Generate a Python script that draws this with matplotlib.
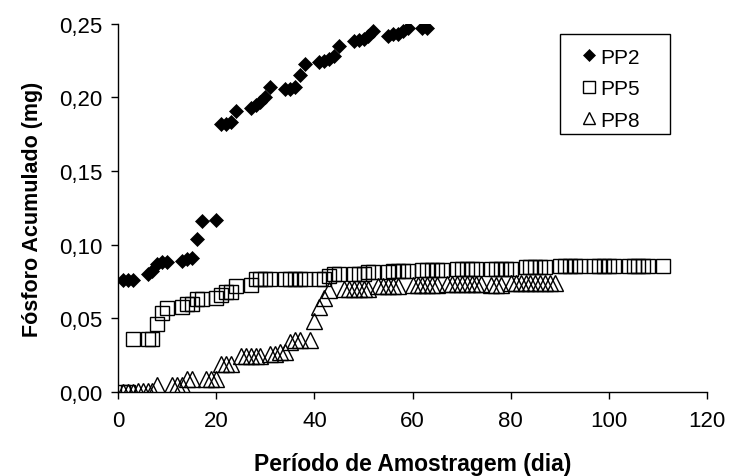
import matplotlib
matplotlib.use("Agg")
import matplotlib.pyplot as plt
from matplotlib.patches import Rectangle
from matplotlib.ticker import FuncFormatter

plt.rcParams['font.family'] = ['Liberation Sans', 'DejaVu Sans']

# PP2 - dias de amostragem e fosforo acumulado (mg)
dias_pp2 = [1, 2, 3, 6, 7, 8, 9, 10, 13, 14, 15, 16, 17, 20, 21, 22, 23, 24,
            27, 28, 29, 30, 31, 34, 35, 36, 37, 38, 41, 42, 43, 44, 45,
            48, 49, 50, 51, 52, 55, 56, 57, 58, 59, 62, 63]
p_pp2 = [0.076, 0.076, 0.076, 0.080, 0.082, 0.087, 0.088, 0.088, 0.089, 0.090,
         0.091, 0.104, 0.116, 0.117, 0.182, 0.182, 0.183, 0.191,
         0.193, 0.195, 0.197, 0.200, 0.207, 0.206, 0.206, 0.207, 0.215, 0.223,
         0.224, 0.225, 0.226, 0.228, 0.235,
         0.238, 0.239, 0.240, 0.242, 0.245, 0.242, 0.243, 0.243, 0.245, 0.247,
         0.247, 0.247]

# PP5
dias_pp5 = [1, 2, 3, 6, 7, 8, 9, 10, 13, 14, 15, 16, 17, 20, 21, 22, 23, 24,
            27, 28, 29, 30, 31, 34, 35, 36, 37, 38, 41, 42, 43, 44, 45,
            48, 49, 50, 51, 52, 55, 56, 57, 58, 59, 62, 63, 64, 65, 66,
            69, 70, 71, 72, 73, 76, 77, 78, 79, 80, 83, 84, 85, 86, 87,
            90, 91, 92, 93, 94, 97, 98, 99, 100, 101, 104, 105, 106, 107, 108,
            111]
p_pp5 = [0.000, 0.000, 0.036, 0.036, 0.036, 0.046, 0.054, 0.057, 0.058, 0.060,
         0.060, 0.063, 0.063, 0.064, 0.066, 0.068, 0.068, 0.072,
         0.073, 0.077, 0.077, 0.077, 0.077, 0.077, 0.077, 0.077, 0.077, 0.077,
         0.077, 0.077, 0.079, 0.080, 0.080,
         0.080, 0.080, 0.080, 0.0815, 0.0815, 0.0815, 0.0824, 0.0824, 0.0824, 0.0824,
         0.083, 0.083, 0.083, 0.083, 0.083,
         0.0835, 0.0835, 0.0835, 0.0835, 0.0835, 0.0835, 0.0835, 0.0835, 0.0835, 0.0835,
         0.0847, 0.0847, 0.0847, 0.0847, 0.0847,
         0.0854, 0.0854, 0.0854, 0.0854, 0.0854, 0.0854, 0.0854, 0.0854, 0.0854, 0.0854,
         0.0854, 0.0854, 0.0854, 0.0854, 0.0854,
         0.0854]

# PP8
dias_pp8 = [1, 2, 3, 4, 5, 6, 7, 8, 11, 12, 13, 14, 15, 18, 19, 20, 21, 22, 23,
            25, 26, 27, 28, 29, 31, 32, 33, 34, 35, 36, 37, 39, 40, 41, 42, 43,
            46, 47, 48, 49, 50, 51, 53, 54, 55, 56, 57, 60, 61, 62, 63, 64, 65,
            67, 68, 69, 70, 71, 72, 73, 74, 76, 77, 78,
            80, 81, 82, 83, 84, 85, 86, 87, 88, 89]
p_pp8 = [0.000, 0.000, 0.000, 0.001, 0.001, 0.001, 0.001, 0.005, 0.005, 0.005,
         0.005, 0.009, 0.009, 0.009, 0.009, 0.009, 0.019, 0.019, 0.019,
         0.0245, 0.0245, 0.0245, 0.0245, 0.0245, 0.026, 0.026, 0.027, 0.027,
         0.034, 0.035, 0.035, 0.035, 0.048, 0.058, 0.064, 0.069,
         0.070, 0.070, 0.070, 0.070, 0.070, 0.070, 0.072, 0.072, 0.072, 0.072, 0.072,
         0.073, 0.073, 0.073, 0.073, 0.073, 0.073,
         0.0733, 0.0733, 0.0733, 0.0733, 0.0733, 0.0733, 0.0733, 0.0733,
         0.073, 0.073, 0.073,
         0.074, 0.074, 0.074, 0.074, 0.074, 0.074, 0.074, 0.074, 0.074, 0.074]

fig = plt.figure(figsize=(7.29, 4.77), dpi=100)
ax = fig.add_axes([0.162, 0.176, 0.808, 0.772])

ax.plot(dias_pp2, p_pp2, linestyle='none', marker='D', ms=7.4,
        mfc='black', mec='black', mew=0.5, label='PP2')
ax.plot(dias_pp5, p_pp5, linestyle='none', marker='s', ms=9.6,
        mfc='none', mec='black', mew=1.0, label='PP5')
ax.plot(dias_pp8, p_pp8, linestyle='none', marker='^', ms=11,
        mfc='none', mec='black', mew=1.0, label='PP8')

ax.set_xlim(0, 120)
ax.set_ylim(0, 0.25)
ax.set_xticks(range(0, 121, 20))
ax.set_yticks([0, 0.05, 0.10, 0.15, 0.20, 0.25])
ax.yaxis.set_major_formatter(FuncFormatter(lambda v, p: f'{v:.2f}'.replace('.', ',')))

for s in ['top', 'right']:
    ax.spines[s].set_visible(False)
for s in ['left', 'bottom']:
    ax.spines[s].set_linewidth(1.0)
ax.tick_params(direction='out', length=5, width=1.0, labelsize=16, colors='black')
ax.tick_params(axis='x', pad=8)
ax.tick_params(axis='y', pad=6)

ax.set_xlabel('Período de Amostragem (dia)', fontsize=16.5, fontweight='bold', labelpad=15)
ax.set_ylabel('Fósforo Acumulado (mg)', fontsize=15.5, fontweight='bold', labelpad=12)

# legend box drawn separately (Excel-like wide frame)
ax.add_patch(Rectangle((0.7504, 0.701), 0.1868, 0.2717, transform=ax.transAxes,
                       fill=False, edgecolor='black', linewidth=1.0, clip_on=False))
leg = ax.legend(loc='upper left', bbox_to_anchor=(0.786, 0.935), fontsize=15,
                frameon=False, handlelength=0.75, handletextpad=0.15, borderpad=0,
                borderaxespad=0, labelspacing=0.6, markerscale=0.85)

fig.savefig('out.png', dpi=100)
